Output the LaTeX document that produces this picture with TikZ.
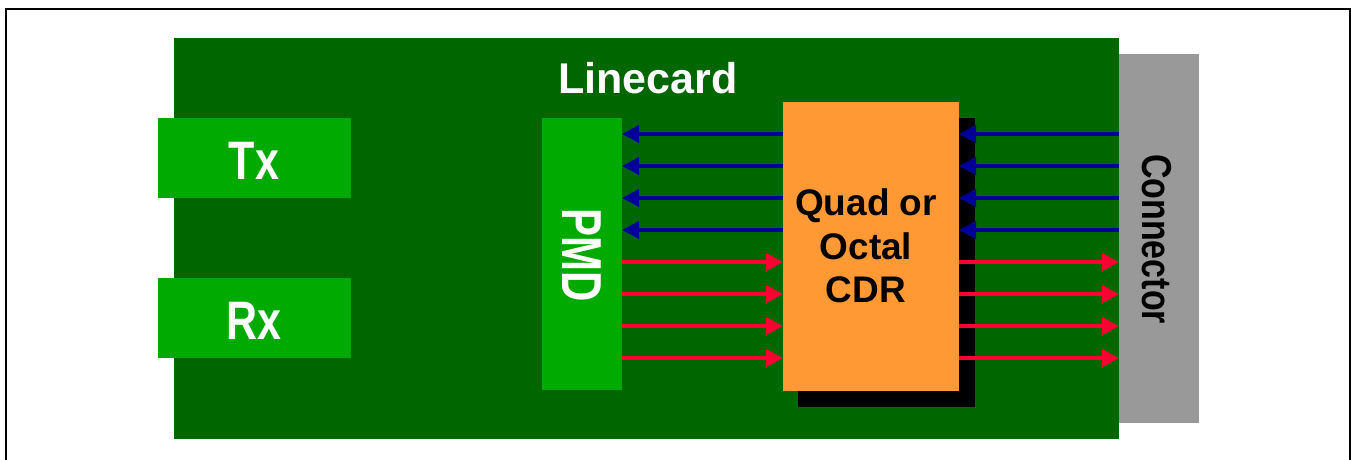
\documentclass[tikz,border=0pt]{standalone}
\usepackage{fontspec}
\setmainfont{Liberation Sans}
\usetikzlibrary{arrows.meta}
\definecolor{board}{HTML}{006600}
\definecolor{brightgreen}{HTML}{00AA00}
\definecolor{cdrorange}{HTML}{FF9933}
\definecolor{conngray}{HTML}{999999}
\definecolor{sigblue}{HTML}{000099}
\definecolor{sigred}{HTML}{FF0033}
\tikzset{
  blk/.style={draw=none, inner sep=0pt, outer sep=0pt, anchor=north west},
  barrow/.style={sigblue, line width=3.7pt, -{Triangle[length=17pt,width=17pt]}},
  rarrow/.style={sigred, line width=3.7pt, -{Triangle[length=17pt,width=17pt]}},
  wlabel/.style={text=white, inner sep=0pt},
}
\begin{document}
\begin{tikzpicture}[x=1pt,y=-1pt]
\useasboundingbox (0,0) rectangle (1351,460);
\begin{scope}
\clip (0,0) rectangle (1351,460);
\draw[line width=2pt] (6,480) -- (6,9) -- (1350,9) -- (1350,480);
\end{scope}
% board
\node[blk, fill=board, minimum width=945pt, minimum height=401pt] (board) at (174,38) {};
% connector
\node[blk, fill=conngray, minimum width=80pt, minimum height=369pt] (conn) at (1119,54) {};
% Tx / Rx
\node[blk, fill=brightgreen, minimum width=193pt, minimum height=80pt] (tx) at (158,118) {};
\node[blk, fill=brightgreen, minimum width=193pt, minimum height=80pt] (rx) at (158,278) {};
% PMD
\node[blk, fill=brightgreen, minimum width=80pt, minimum height=272pt] (pmd) at (542,118) {};
% CDR with shadow
\node[blk, fill=black, minimum width=177pt, minimum height=289pt] (shadow) at (798,118) {};
\node[blk, fill=cdrorange, minimum width=176pt, minimum height=289pt] (cdr) at (783,102) {};
% arrows PMD <-> CDR
\foreach \yy in {134,166,198,230} {
  \draw[barrow] (cdr.west |- 0,\yy) -- (pmd.east |- 0,\yy);
  \draw[barrow] (conn.west |- 0,\yy) -- (cdr.east |- 0,\yy);
}
\foreach \yy in {262,294,326,358} {
  \draw[rarrow] (pmd.east |- 0,\yy) -- (cdr.west |- 0,\yy);
  \draw[rarrow] (cdr.east |- 0,\yy) -- (conn.west |- 0,\yy);
}
% labels
\node[wlabel, anchor=base, font=\fontsize{43pt}{43pt}\selectfont\bfseries] (linecard) at (648,93) {Linecard};
\node[wlabel, font=\fontsize{43pt}{43pt}\selectfont\bfseries] (txlabel) at (254,160.5) {\scalebox{1}[1.26]{Tx}};
\node[wlabel, font=\fontsize{43pt}{43pt}\selectfont\bfseries] (rxlabel) at (254,320.5) {\scalebox{1}[1.26]{Rx}};
\node[wlabel, rotate=-90, font=\fontsize{42pt}{42pt}\selectfont\bfseries] (pmdlabel) at (581.5,255) {\scalebox{1}[1.34]{PMD}};
\node[inner sep=0pt, rotate=-90, font=\fontsize{34pt}{34pt}\selectfont\bfseries] (connlabel) at (1157,239) {\scalebox{1}[1.23]{Connector}};
\node[inner sep=0pt, align=center, font=\fontsize{37pt}{43.5pt}\selectfont\bfseries] (cdrlabel) at (866,246) {Quad or\\Octal\\CDR};
\end{tikzpicture}
\end{document}
